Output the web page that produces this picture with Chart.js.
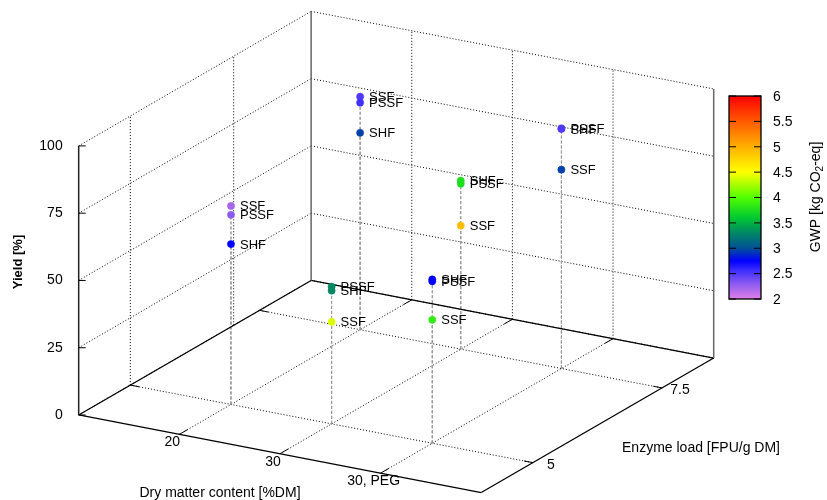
<!DOCTYPE html>
<html>
<head>
<meta charset="utf-8">
<title>Yield, dry matter and enzyme load</title>
<script src="https://cdn.jsdelivr.net/npm/chart.js@4.4.0/dist/chart.umd.min.js"></script>
<style>
    html, body { margin: 0; padding: 0; background: #fff; }
    #wrap { width: 827px; height: 500px; }
</style>
</head>
<body>
<div id="wrap"><canvas id="chart" width="827" height="500"></canvas></div>
<script>
// axis categories and ticks
const dryMatterLabels = ['20', '30', '30, PEG'];
const enzymeTicks = [5, 7.5];
const enzymeWallLines = [5, 7];
const yieldTicks = [0, 25, 50, 75, 100];
const gwpTicks = [2, 2.5, 3, 3.5, 4, 4.5, 5, 5.5, 6];

// axis ranges
const dryRange = [-1, 3];
const enzymeRange = [4, 8.5];
const yieldRange = [0, 100];
const gwpRange = [2, 6];

// one entry per point
const configs = ['SHF', 'SSF', 'PSSF', 'SHF', 'SSF', 'PSSF',
                 'SHF', 'SSF', 'PSSF', 'SHF', 'SSF', 'PSSF',
                 'SHF', 'SSF', 'PSSF', 'SHF', 'SSF', 'PSSF'];
const dryIndex = [0, 0, 0, 0, 0, 0, 1, 1, 1, 1, 1, 1, 2, 2, 2, 2, 2, 2];
const enzymeLoad = [5, 5, 5, 7.5, 7.5, 7.5, 5, 5, 5, 7.5, 7.5, 7.5, 5, 5, 5, 7.5, 7.5, 7.5];
const yieldPct = [59.6, 73.8, 70.5, 73.2, 86.6, 84.4,
                  49.5, 37.9, 51.0, 62.6, 45.9, 61.5,
                  60.9, 45.9, 60.2, 89.0, 73.9, 89.3];
const gwp = [2.75, 2.2, 2.3, 2.95, 2.5, 2.55,
             3.3, 4.4, 3.3, 3.75, 4.9, 3.75,
             2.75, 3.85, 2.75, 2.5, 2.95, 2.5];

// palette stops for the colour box
const paletteStops = [
    [2.0, [224, 128, 232]],
    [2.3, [140, 90, 240]],
    [2.55, [64, 48, 250]],
    [2.75, [0, 0, 255]],
    [3.0, [0, 80, 150]],
    [3.3, [0, 135, 100]],
    [3.6, [0, 200, 50]],
    [4.0, [80, 255, 0]],
    [4.5, [255, 255, 0]],
    [5.0, [255, 175, 0]],
    [5.5, [255, 90, 0]],
    [6.0, [255, 0, 0]]
];

function paletteColor(v) {
    if (v <= paletteStops[0][0]) return rgb(paletteStops[0][1]);
    for (let i = 1; i < paletteStops.length; i++) {
        const [v1, c1] = paletteStops[i];
        const [v0, c0] = paletteStops[i - 1];
        if (v <= v1) {
            const t = (v - v0) / (v1 - v0);
            return rgb(c0.map((c, k) => c + (c1[k] - c) * t));
        }
    }
    return rgb(paletteStops[paletteStops.length - 1][1]);
}
function rgb(c) {
    return `rgb(${Math.round(c[0])}, ${Math.round(c[1])}, ${Math.round(c[2])})`;
}

// fixed view of the box (screen units)
const view = { ox: 75, oy: 418, ex: [407, 79], ey: [235, -137], ez: [0, -274] };

function project(xi, en, yl) {
    const u = (xi - dryRange[0]) / (dryRange[1] - dryRange[0]);
    const v = (en - enzymeRange[0]) / (enzymeRange[1] - enzymeRange[0]);
    const w = (yl - yieldRange[0]) / (yieldRange[1] - yieldRange[0]);
    return {
        x: view.ox + u * view.ex[0] + v * view.ey[0] + w * view.ez[0],
        y: view.oy + u * view.ex[1] + v * view.ey[1] + w * view.ez[1]
    };
}

const FONT = '"Liberation Sans", Arial, sans-serif';
const points = configs.map((c, i) => project(dryIndex[i], enzymeLoad[i], yieldPct[i]));
const colors = gwp.map(paletteColor);

const box3d = {
    id: 'box3d',
    beforeDatasetsDraw(chart) {
        const ctx = chart.ctx;
        const sx = chart.scales.x, sy = chart.scales.y;
        const P = (xi, en, yl) => {
            const p = project(xi, en, yl);
            return [sx.getPixelForValue(p.x), sy.getPixelForValue(p.y)];
        };
        const line = (a, b) => {
            ctx.beginPath();
            ctx.moveTo(a[0], a[1]);
            ctx.lineTo(b[0], b[1]);
            ctx.stroke();
        };
        const [x0, x1] = dryRange, [e0, e1] = enzymeRange, [z0, z1] = yieldRange;

        ctx.save();
        // dotted grid
        ctx.strokeStyle = '#000';
        ctx.lineWidth = 1;
        ctx.setLineDash([1, 2]);
        yieldTicks.forEach(z => {
            line(P(x0, e0, z), P(x0, e1, z));
            line(P(x0, e1, z), P(x1, e1, z));
        });
        dryMatterLabels.forEach((l, i) => {
            line(P(i, e0, z0), P(i, e1, z0));
            line(P(i, e1, z0), P(i, e1, z1));
        });
        enzymeTicks.forEach(e => line(P(x0, e, z0), P(x1, e, z0)));
        enzymeWallLines.forEach(e => line(P(x0, e, z0), P(x0, e, z1)));

        // drop lines from each point
        ctx.strokeStyle = '#9a9a9a';
        ctx.setLineDash([3, 2]);
        points.forEach((p, i) => {
            line(P(dryIndex[i], enzymeLoad[i], z0), P(dryIndex[i], enzymeLoad[i], yieldPct[i]));
        });

        // base and back edges
        ctx.setLineDash([]);
        ctx.strokeStyle = '#000';
        ctx.lineWidth = 1.3;
        line(P(x0, e0, z0), P(x1, e0, z0));
        line(P(x1, e0, z0), P(x1, e1, z0));
        line(P(x0, e0, z0), P(x0, e1, z0));
        line(P(x0, e1, z0), P(x1, e1, z0));
        ctx.strokeStyle = '#666';
        ctx.lineWidth = 1.5;
        line(P(x0, e1, z0), P(x0, e1, z1));
        line(P(x1, e1, z0), P(x1, e1, z1));
        ctx.strokeStyle = '#222';
        line(P(x0, e0, z0), P(x0, e0, z1));

        // tick marks
        ctx.lineWidth = 1;
        ctx.strokeStyle = '#000';
        yieldTicks.forEach(z => {
            const a = P(x0, e0, z);
            line(a, [a[0] + 7, a[1]]);
        });
        const de = (e1 - e0) * 0.035, dx = (x1 - x0) * 0.022;
        dryMatterLabels.forEach((l, i) => {
            line(P(i, e0, z0), P(i, e0 + de, z0));
            line(P(i, e1, z0), P(i, e1 - de, z0));
        });
        enzymeTicks.forEach(e => {
            line(P(x1, e, z0), P(x1 - dx, e, z0));
            line(P(x0, e, z0), P(x0 + dx, e, z0));
        });

        // tick labels
        ctx.fillStyle = '#000';
        ctx.font = '14px ' + FONT;
        ctx.textAlign = 'right';
        ctx.textBaseline = 'middle';
        yieldTicks.forEach(z => {
            const a = P(x0, e0, z);
            ctx.fillText(String(z), a[0] - 16, a[1]);
        });
        ctx.textAlign = 'center';
        dryMatterLabels.forEach((l, i) => {
            const a = P(i, e0, z0);
            ctx.fillText(l, a[0] - 7, a[1] + 8);
        });
        enzymeTicks.forEach(e => {
            const a = P(x1, e, z0);
            ctx.fillText(String(e), a[0] + 18, a[1] + 2);
        });

        // axis titles
        ctx.fillText('Dry matter content [%DM]', 220, 493);
        ctx.fillText('Enzyme load [FPU/g DM]', 701, 448);
        ctx.save();
        ctx.translate(18, 262);
        ctx.rotate(-Math.PI / 2);
        ctx.font = 'bold 13px ' + FONT;
        ctx.fillText('Yield [%]', 0, 0);
        ctx.restore();

        // colour box
        const cb = { left: 729, right: 761, top: 96, bottom: 299 };
        const cy = v => cb.bottom - (v - gwpRange[0]) / (gwpRange[1] - gwpRange[0]) * (cb.bottom - cb.top);
        const grad = ctx.createLinearGradient(0, cb.bottom, 0, cb.top);
        paletteStops.forEach(([v, c]) => {
            grad.addColorStop((v - gwpRange[0]) / (gwpRange[1] - gwpRange[0]), rgb(c));
        });
        ctx.fillStyle = grad;
        ctx.fillRect(cb.left, cb.top, cb.right - cb.left, cb.bottom - cb.top);
        ctx.strokeStyle = '#000';
        ctx.lineWidth = 1.3;
        ctx.strokeRect(cb.left, cb.top, cb.right - cb.left, cb.bottom - cb.top);
        ctx.lineWidth = 1;
        ctx.fillStyle = '#000';
        ctx.textAlign = 'left';
        gwpTicks.forEach(v => {
            const y = cy(v);
            line([cb.left, y], [cb.left + 7, y]);
            line([cb.right, y], [cb.right - 7, y]);
            ctx.fillText(String(v), cb.right + 12, y + 1);
        });

        // colour box title with subscript
        ctx.save();
        ctx.translate(816, 197);
        ctx.rotate(-Math.PI / 2);
        const parts = [['GWP [kg CO', 14, 0], ['2', 10, 4], ['-eq]', 14, 0]];
        let total = 0;
        parts.forEach(([t, s]) => { ctx.font = s + 'px ' + FONT; total += ctx.measureText(t).width; });
        let pos = -total / 2;
        parts.forEach(([t, s, dy]) => {
            ctx.font = s + 'px ' + FONT;
            ctx.fillText(t, pos, dy);
            pos += ctx.measureText(t).width;
        });
        ctx.restore();
        ctx.restore();
    },
    afterDatasetsDraw(chart) {
        const ctx = chart.ctx;
        const meta = chart.getDatasetMeta(0);
        ctx.save();
        ctx.fillStyle = '#000';
        ctx.font = '13px ' + FONT;
        ctx.textAlign = 'left';
        ctx.textBaseline = 'middle';
        meta.data.forEach((el, i) => {
            ctx.fillText(configs[i], el.x + 9, el.y + 1);
        });
        ctx.restore();
    }
};

new Chart(document.getElementById('chart'), {
    type: 'scatter',
    data: {
        datasets: [{
            label: 'Yield',
            data: points,
            pointRadius: 3.6,
            pointBackgroundColor: colors,
            pointBorderColor: colors,
            pointBorderWidth: 0.5
        }]
    },
    options: {
        responsive: false,
        animation: false,
        layout: { padding: 0 },
        plugins: {
            legend: { display: false },
            tooltip: { enabled: false }
        },
        scales: {
            x: { type: 'linear', min: 0, max: 827, display: false },
            y: { type: 'linear', min: 0, max: 500, reverse: true, display: false }
        }
    },
    plugins: [box3d]
});
</script>
</body>
</html>
